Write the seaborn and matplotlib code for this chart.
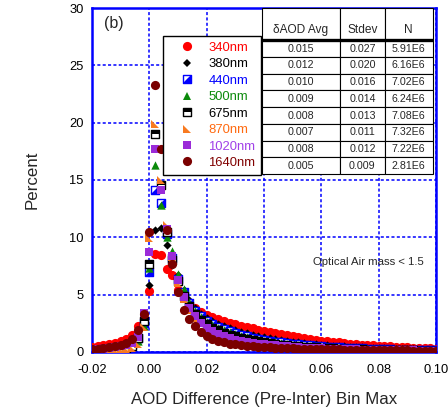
import numpy as np
import pandas as pd
import matplotlib
matplotlib.use("Agg")
import matplotlib.pyplot as plt
import seaborn as sns
from matplotlib.path import Path
from matplotlib.markers import MarkerStyle
from matplotlib.lines import Line2D
from matplotlib.ticker import MultipleLocator, FormatStrFormatter

sns.set_style("white")
plt.rcParams['font.family'] = ['Liberation Sans', 'DejaVu Sans']

# ---------------- data ----------------
bin_max = [-0.020, -0.018, -0.016, -0.014, -0.012, -0.010, -0.008, -0.006, -0.004, -0.002,
           0.000, 0.002, 0.004, 0.006, 0.008, 0.010, 0.012, 0.014, 0.016, 0.018, 0.020,
           0.022, 0.024, 0.026, 0.028, 0.030, 0.032, 0.034, 0.036, 0.038, 0.040,
           0.042, 0.044, 0.046, 0.048, 0.050, 0.052, 0.054, 0.056, 0.058, 0.060,
           0.062, 0.064, 0.066, 0.068, 0.070, 0.072, 0.074, 0.076, 0.078, 0.080,
           0.082, 0.084, 0.086, 0.088, 0.090, 0.092, 0.094, 0.096, 0.098, 0.100]

p340 = [0.40, 0.48, 0.57, 0.68, 0.80, 0.95, 1.15, 1.50, 2.30, 3.00,
        5.30, 8.55, 8.45, 7.20, 6.70, 5.40, 4.70, 4.20, 3.80, 3.50, 3.25,
        3.05, 2.88, 2.72, 2.57, 2.43, 2.30, 2.17, 2.05, 1.93, 1.82,
        1.72, 1.62, 1.53, 1.44, 1.36, 1.28, 1.21, 1.14, 1.07, 1.00,
        0.94, 0.88, 0.83, 0.78, 0.73, 0.69, 0.65, 0.61, 0.57, 0.54,
        0.51, 0.48, 0.45, 0.43, 0.40, 0.38, 0.36, 0.34, 0.32, 0.30]
p380 = [0.20, 0.25, 0.30, 0.37, 0.45, 0.55, 0.70, 0.95, 1.50, 2.60,
        5.80, 10.6, 10.8, 9.30, 7.60, 6.70, 5.40, 4.50, 3.80, 3.30, 2.95,
        2.68, 2.45, 2.25, 2.07, 1.91, 1.77, 1.64, 1.52, 1.41, 1.31,
        1.22, 1.13, 1.05, 0.98, 0.91, 0.85, 0.79, 0.74, 0.69, 0.64,
        0.60, 0.56, 0.52, 0.49, 0.46, 0.43, 0.40, 0.38, 0.35, 0.33,
        0.31, 0.29, 0.27, 0.26, 0.24, 0.23, 0.21, 0.20, 0.19, 0.18]
p440 = [0.15, 0.18, 0.22, 0.27, 0.33, 0.40, 0.52, 0.72, 1.20, 2.50,
        7.00, 14.1, 13.0, 10.3, 8.20, 6.40, 5.20, 4.30, 3.60, 3.10, 2.70,
        2.42, 2.18, 1.97, 1.79, 1.63, 1.49, 1.36, 1.25, 1.15, 1.06,
        0.98, 0.90, 0.83, 0.77, 0.71, 0.66, 0.61, 0.57, 0.53, 0.49,
        0.46, 0.43, 0.40, 0.37, 0.35, 0.33, 0.31, 0.29, 0.27, 0.25,
        0.24, 0.22, 0.21, 0.20, 0.19, 0.18, 0.17, 0.16, 0.15, 0.14]
p500 = [0.12, 0.15, 0.18, 0.22, 0.27, 0.33, 0.43, 0.60, 1.00, 2.30,
        7.30, 16.3, 12.8, 10.0, 8.80, 6.80, 5.50, 4.40, 3.60, 3.05, 2.65,
        2.35, 2.10, 1.89, 1.71, 1.55, 1.41, 1.28, 1.17, 1.07, 0.98,
        0.90, 0.83, 0.76, 0.70, 0.65, 0.60, 0.55, 0.51, 0.47, 0.44,
        0.41, 0.38, 0.35, 0.33, 0.31, 0.29, 0.27, 0.25, 0.23, 0.22,
        0.21, 0.19, 0.18, 0.17, 0.16, 0.15, 0.14, 0.14, 0.13, 0.12]
p675 = [0.10, 0.12, 0.15, 0.18, 0.22, 0.28, 0.38, 0.55, 1.20, 2.70,
        7.70, 19.0, 14.6, 10.5, 8.00, 6.20, 4.90, 4.00, 3.30, 2.80, 2.40,
        2.12, 1.89, 1.69, 1.52, 1.37, 1.24, 1.12, 1.02, 0.93, 0.85,
        0.78, 0.71, 0.65, 0.60, 0.55, 0.51, 0.47, 0.43, 0.40, 0.37,
        0.34, 0.32, 0.30, 0.28, 0.26, 0.24, 0.22, 0.21, 0.20, 0.18,
        0.17, 0.16, 0.15, 0.14, 0.13, 0.13, 0.12, 0.11, 0.11, 0.10]
p870 = [0.08, 0.10, 0.12, 0.14, 0.17, 0.21, 0.27, 0.38, 0.70, 2.20,
        9.90, 19.85, 15.0, 11.1, 8.30, 6.00, 4.60, 3.70, 3.00, 2.50, 2.15,
        1.88, 1.66, 1.48, 1.32, 1.19, 1.07, 0.97, 0.88, 0.80, 0.73,
        0.67, 0.61, 0.56, 0.52, 0.48, 0.44, 0.41, 0.38, 0.35, 0.33,
        0.31, 0.29, 0.27, 0.25, 0.23, 0.22, 0.21, 0.19, 0.18, 0.17,
        0.16, 0.15, 0.14, 0.13, 0.13, 0.12, 0.11, 0.11, 0.10, 0.10]
p1020 = [0.18, 0.22, 0.27, 0.33, 0.40, 0.48, 0.60, 0.80, 1.30, 3.40,
         8.70, 17.7, 14.1, 10.7, 8.40, 6.30, 4.80, 3.85, 3.10, 2.50, 2.10,
         1.80, 1.56, 1.37, 1.21, 1.08, 0.97, 0.88, 0.80, 0.73, 0.67,
         0.62, 0.57, 0.53, 0.49, 0.45, 0.42, 0.39, 0.36, 0.34, 0.32,
         0.30, 0.28, 0.26, 0.25, 0.23, 0.22, 0.21, 0.20, 0.19, 0.18,
         0.17, 0.16, 0.15, 0.14, 0.14, 0.13, 0.12, 0.12, 0.11, 0.11]
p1640 = [0.22, 0.27, 0.33, 0.40, 0.48, 0.58, 0.75, 1.10, 1.90, 3.30,
         10.5, 23.3, 17.7, 10.6, 7.70, 5.20, 3.70, 2.90, 2.30, 1.75, 1.40,
         1.15, 0.97, 0.84, 0.74, 0.66, 0.60, 0.55, 0.51, 0.47, 0.44,
         0.41, 0.38, 0.36, 0.34, 0.32, 0.30, 0.28, 0.27, 0.26, 0.25,
         0.24, 0.23, 0.22, 0.21, 0.20, 0.19, 0.18, 0.17, 0.16, 0.15,
         0.15, 0.14, 0.14, 0.13, 0.13, 0.12, 0.12, 0.11, 0.11, 0.10]

labels = ['340nm', '380nm', '440nm', '500nm', '675nm', '870nm', '1020nm', '1640nm']
davg = ['0.015', '0.012', '0.010', '0.009', '0.008', '0.007', '0.008', '0.005']
stdev = ['0.027', '0.020', '0.016', '0.014', '0.013', '0.011', '0.012', '0.009']
ncount = ['5.91E6', '6.16E6', '7.02E6', '6.24E6', '7.08E6', '7.32E6', '7.22E6', '2.81E6']
table_header = ['\u03b4AOD Avg', 'Stdev', 'N']

# ---------------- markers ----------------
def mk(verts):
    return MarkerStyle(Path(verts + [verts[0]], closed=True))

m_square = mk([(-1, -1), (1, -1), (1, 1), (-1, 1)])
m_lr_tri = mk([(-1, -1), (1, -1), (1, 1)])          # lower-right half
m_top = mk([(-1, 0.1), (1, 0.1), (1, 1), (-1, 1)])    # top part
m_ll_tri = mk([(-1, 1), (-1, -1), (1, -1)])           # right angle bottom-left

c_red = '#ff0000'
c_blue = '#0000ff'
c_green = '#0a8a0a'
c_orange = '#f87a20'
c_purple = '#9b2bd8'
c_maroon = '#7a0000'

fig = plt.figure(figsize=(4.48, 4.17), dpi=100)
ax = fig.add_axes([0.2054, 0.1559, 0.7679, 0.8249])

x = np.array(bin_max)

def sc(y, marker, ms, face, edge, lw, z):
    sns.scatterplot(x=x, y=y, marker=marker, s=ms ** 2, color=face,
                    edgecolor=edge, linewidth=lw, ax=ax, zorder=z, legend=False)

sc(p340, 'o', 6.6, c_red, c_red, 0, 3.0)
sc(p380, 'D', 4.2, 'black', 'black', 0, 3.1)
sc(p440, m_square, 5.8, 'white', c_blue, 1.0, 3.2)
sc(p440, m_lr_tri, 5.8, c_blue, c_blue, 0, 3.21)
sc(p500, '^', 6.0, c_green, c_green, 0, 3.3)
sc(p675, m_square, 5.8, 'white', 'black', 1.0, 3.4)
sc(p675, m_top, 5.8, 'black', 'black', 0, 3.41)
sc(p870, m_ll_tri, 6.0, c_orange, c_orange, 0, 3.5)
sc(p1020, m_square, 6.0, c_purple, c_purple, 0, 3.6)
sc(p1640, 'o', 6.6, c_maroon, c_maroon, 0, 3.7)

# ---------------- axes styling ----------------
ax.set_xlim(-0.02, 0.10)
ax.set_ylim(0, 30)
ax.xaxis.set_major_locator(MultipleLocator(0.02))
ax.xaxis.set_minor_locator(MultipleLocator(0.005))
ax.yaxis.set_major_locator(MultipleLocator(5))
ax.xaxis.set_major_formatter(FormatStrFormatter('%.2f'))
ax.yaxis.set_major_formatter(FormatStrFormatter('%d'))
ax.tick_params(axis='both', which='major', direction='in', length=5, width=1.2,
               color=c_blue, labelsize=9.3, labelcolor='black', pad=6)
ax.tick_params(axis='x', which='major', pad=9)
ax.tick_params(axis='x', which='minor', direction='in', length=3, width=1.0, color=c_blue)
for s in ax.spines.values():
    s.set_color(c_blue)
    s.set_linewidth(1.8)
ax.grid(True, which='major', color=c_blue, linestyle=(0, (2, 1.5)), linewidth=1.1)
ax.set_axisbelow(True)

ax.set_xlabel('AOD Difference (Pre-Inter) Bin Max', fontsize=12.2, labelpad=11)
ax.set_ylabel('Percent', fontsize=12.2, labelpad=21)

ax.text(0.035, 0.955, '(b)', transform=ax.transAxes, fontsize=11.5, va='center', ha='left')
ax.text(0.642, 0.262, 'Optical Air mass < 1.5', transform=ax.transAxes, fontsize=8.2,
        va='center', ha='left')

# ---------------- legend ----------------
def h(marker, ms, face, edge, lw):
    return Line2D([], [], ls='', marker=marker, markersize=ms, markerfacecolor=face,
                  markeredgecolor=edge, markeredgewidth=lw)

handles = [
    h('o', 6.6, c_red, c_red, 0),
    h('D', 4.2, 'black', 'black', 0),
    (h(m_square, 5.8, 'white', c_blue, 1.0), h(m_lr_tri, 5.8, c_blue, c_blue, 0)),
    h('^', 6.0, c_green, c_green, 0),
    (h(m_square, 5.8, 'white', 'black', 1.0), h(m_top, 5.8, 'black', 'black', 0)),
    h(m_ll_tri, 6.0, c_orange, c_orange, 0),
    h(m_square, 6.0, c_purple, c_purple, 0),
    h('o', 6.6, c_maroon, c_maroon, 0),
]
text_colors = [c_red, 'black', c_blue, c_green, 'black', '#ff6a10', '#a040e8', '#800000']
leg = ax.legend(handles, labels, loc='upper left', bbox_to_anchor=(0.207, 0.919),
                borderaxespad=0, frameon=True, fancybox=False, framealpha=1,
                edgecolor='black', fontsize=9.4, handlelength=2.8, handletextpad=0.2,
                borderpad=0.45, labelspacing=0.33)
leg.get_frame().set_linewidth(1.0)
leg.set_zorder(6)
for t, c in zip(leg.get_texts(), text_colors):
    t.set_color(c)

# ---------------- table ----------------
cell_text = [[a, s, n] for a, s, n in zip(davg, stdev, ncount)]
tb = ax.table(cellText=cell_text, colLabels=table_header, cellLoc='center',
              bbox=[0.493, 0.517, 0.497, 0.483], colWidths=[0.458, 0.263, 0.279])
tb.auto_set_font_size(False)
tb.set_fontsize(7.7)
tb.set_zorder(6)
for (r, c), cell in tb.get_celld().items():
    cell.set_edgecolor('black')
    cell.set_linewidth(0.8)
    cell.set_facecolor('white')
    if r == 0:
        cell.set_height(cell.get_height() * 1.92)
        cell.get_text().set_va('top')
        cell.get_text().set_fontsize(8.6)
ax.plot([0.493, 0.990], [0.907, 0.907], transform=ax.transAxes, color='black',
        lw=2.4, zorder=7, clip_on=False, solid_capstyle='butt')

fig.savefig('out.png', dpi=100)
